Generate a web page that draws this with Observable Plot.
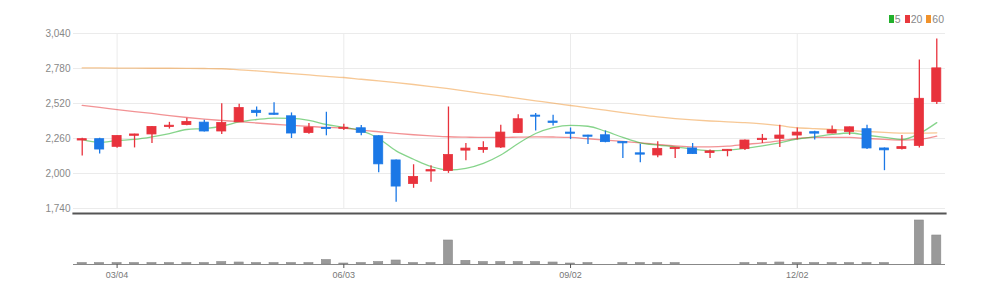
<!DOCTYPE html>
<html>
<head>
<meta charset="utf-8">
<script src="https://cdn.jsdelivr.net/npm/d3@7"></script>
<script src="https://cdn.jsdelivr.net/npm/@observablehq/plot@0.6"></script>
<style>
  html, body { margin: 0; padding: 0; background: #fff; }
  #wrap { position: relative; width: 994px; height: 297px; overflow: hidden; font-family: "Liberation Sans Narrow", "Arial Narrow", "Liberation Sans", sans-serif; }
  #legend { position: absolute; top: 13px; right: 50px; font-size: 10.5px; color: #888; display: flex; align-items: center; gap: 4px; }
  #legend span.sw { display: inline-block; width: 5px; height: 8px; margin-right: 1px; vertical-align: middle; }
  #legend .it { display: flex; align-items: center; }
  #price, #vol { position: absolute; left: 0; }
  #price { top: 0; }
  #vol { top: 212px; }
</style>
</head>
<body>
<div id="wrap">
  <div id="price"></div>
  <div id="vol"></div>
  <div id="legend"></div>
</div>
<script>
const dates = ["02/19","02/26","03/04","03/11","03/18","03/25","04/01","04/08","04/15","04/22","04/29","05/06","05/13","05/20","05/27","06/03","06/10","06/17","06/24","07/01","07/08","07/15","07/22","07/29","08/05","08/12","08/19","08/26","09/02","09/09","09/16","09/23","09/30","10/07","10/14","10/21","10/28","11/04","11/11","11/18","11/25","12/02","12/09","12/16","12/23","12/30","01/06","01/13","01/20","01/27"];
const opens  = [2245,2255,2198,2280,2290,2345,2360,2378,2312,2380,2466,2445,2425,2301,2338,2332,2336,2277,2097,1922,2015,2019,2170,2175,2193,2301,2430,2386,2304,2282,2284,2234,2150,2134,2181,2186,2152,2166,2181,2248,2258,2282,2307,2297,2309,2329,2186,2182,2205,2530];
const closes = [2255,2178,2279,2290,2346,2355,2383,2312,2375,2486,2450,2436,2297,2341,2330,2340,2302,2068,1903,1974,2025,2137,2185,2190,2304,2403,2422,2376,2295,2273,2233,2224,2140,2183,2191,2144,2164,2176,2245,2258,2282,2304,2296,2321,2343,2186,2172,2196,2555,2781];
const highs  = [2262,2262,2280,2292,2350,2380,2410,2395,2518,2515,2494,2525,2450,2372,2455,2365,2357,2280,2100,2065,2058,2494,2223,2235,2358,2437,2445,2432,2338,2285,2316,2236,2218,2235,2194,2223,2175,2178,2248,2290,2358,2338,2313,2353,2345,2358,2190,2282,2843,3000];
const lows   = [2130,2145,2188,2190,2222,2330,2355,2308,2290,2378,2420,2433,2260,2292,2280,2320,2280,2006,1787,1890,1935,2001,2095,2150,2186,2298,2316,2353,2252,2216,2228,2112,2080,2117,2112,2141,2112,2124,2170,2223,2193,2248,2248,2295,2284,2178,2021,2174,2190,2513];
const ma5  = [2252,2232,2245,2253,2272,2297,2327,2334,2351,2383,2401,2412,2410,2395,2364,2343,2318,2260,2168,2106,2052,2026,2038,2075,2137,2223,2297,2341,2358,2351,2314,2268,2228,2211,2198,2181,2169,2174,2186,2205,2228,2255,2272,2290,2301,2284,2268,2253,2297,2378];
const ma20 = [2506,2491,2475,2460,2446,2430,2416,2404,2394,2385,2375,2366,2358,2350,2342,2338,2322,2310,2298,2288,2280,2273,2270,2268,2268,2270,2272,2271,2268,2258,2248,2238,2228,2216,2205,2198,2198,2203,2216,2228,2243,2260,2268,2268,2268,2260,2253,2248,2253,2277];
const ma60 = [2784,2784,2783,2783,2782,2782,2781,2780,2778,2770,2762,2752,2742,2732,2722,2713,2700,2688,2675,2661,2646,2630,2612,2594,2576,2558,2540,2522,2505,2488,2470,2452,2435,2420,2408,2398,2390,2384,2378,2368,2355,2340,2333,2327,2320,2312,2305,2300,2300,2302];
const volumes = [15000,15000,15000,15000,15000,15000,15000,15000,25000,20000,15000,15000,15000,15000,45000,10000,15000,25000,40000,15000,15000,240000,37000,25000,25000,25000,25000,20000,10000,15000,0,15000,15000,15000,15000,0,0,0,15000,15000,20000,15000,15000,15000,15000,15000,15000,0,440000,290000];
const yTicks = [1740,2000,2260,2520,2780,3040];
const xTicks = ["03/04","06/03","09/02","12/02"];
const maNames = ["5","20","60"];
const maColors = ["#22b02c","#e8383d","#f0922b"];

const UP = "#e8323c", DOWN = "#1b78e6";
const data = dates.map((d, i) => ({date: d, open: opens[i], close: closes[i], high: highs[i], low: lows[i],
  ma5: ma5[i], ma20: ma20[i], ma60: ma60[i], volume: volumes[i], up: closes[i] >= opens[i]}));

const font = '"Liberation Sans Narrow", "Arial Narrow", "Liberation Sans", sans-serif';
const xOpts = {domain: dates, paddingInner: 0.48, paddingOuter: 0.24, round: false, label: null};

const price = Plot.plot({
  width: 994, height: 217,
  marginLeft: 73, marginRight: 49, marginTop: 33, marginBottom: 9,
  style: {fontFamily: font, fontSize: "10px", color: "#888", background: "transparent"},
  x: {...xOpts, axis: null},
  y: {domain: [1740, 3040], ticks: yTicks, tickFormat: d3.format(","), label: null},
  marks: [
    Plot.ruleY(yTicks, {stroke: "#ebebeb"}),
    Plot.ruleX(xTicks, {stroke: "#ebebeb"}),
    Plot.axisY({ticks: yTicks, tickFormat: d3.format(","), tickSize: 0, tickPadding: 3, fill: "#888", fontSize: 10, label: null}),
    Plot.line(data, {x: "date", y: "ma60", stroke: maColors[2], strokeOpacity: 0.5, strokeWidth: 1.3, curve: "monotone-x"}),
    Plot.line(data, {x: "date", y: "ma20", stroke: maColors[1], strokeOpacity: 0.55, strokeWidth: 1.3, curve: "monotone-x"}),
    Plot.line(data, {x: "date", y: "ma5", stroke: maColors[0], strokeOpacity: 0.55, strokeWidth: 1.3, curve: "monotone-x"}),
    Plot.ruleX(data, {x: "date", y1: "low", y2: "high", stroke: d => d.up ? UP : DOWN, strokeWidth: 1.3}),
    Plot.barY(data, {x: "date", y1: "open", y2: "close", fill: d => d.up ? UP : DOWN, stroke: d => d.up ? UP : DOWN, strokeWidth: 0.8})
  ]
});
document.getElementById("price").appendChild(price);

const vol = Plot.plot({
  width: 994, height: 85,
  marginLeft: 73, marginRight: 49, marginTop: 1, marginBottom: 33,
  style: {fontFamily: font, fontSize: "9px", color: "#666", background: "transparent"},
  x: {...xOpts},
  y: {domain: [0, 510000], axis: null},
  marks: [
    Plot.frame({anchor: "top", stroke: "#555", strokeWidth: 2.2}),
    Plot.barY(data, {x: "date", y: "volume", fill: "#9a9a9a", stroke: "#8a8a8a", strokeWidth: 0.6}),
    Plot.ruleY([0], {stroke: "#888", strokeWidth: 1.2}),
    Plot.axisX({ticks: xTicks, tickSize: 4, tickPadding: 3, stroke: "#555", fill: "#777", fontSize: 9, label: null})
  ]
});
document.getElementById("vol").appendChild(vol);

const legend = document.getElementById("legend");
maNames.forEach((n, i) => {
  const it = document.createElement("span");
  it.className = "it";
  it.innerHTML = `<span class="sw" style="background:${maColors[i]}"></span>${n}`;
  legend.appendChild(it);
});
</script>
</body>
</html>
